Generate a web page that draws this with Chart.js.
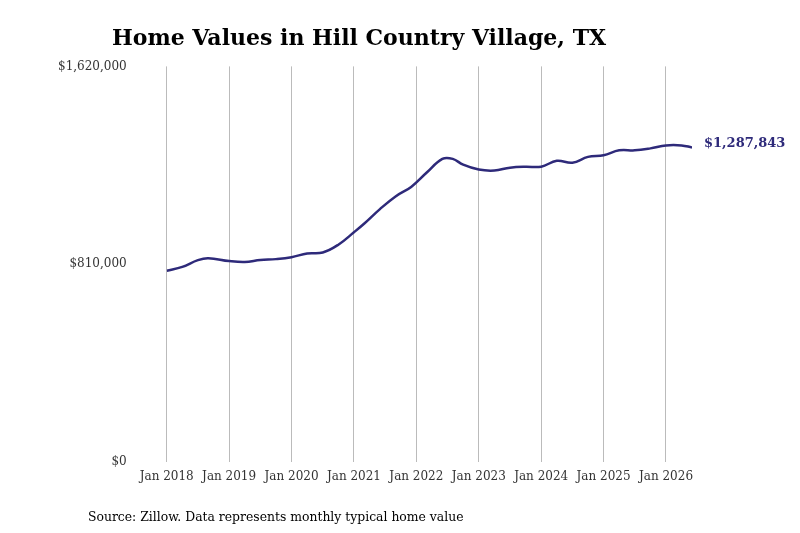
<!DOCTYPE html>
<html><head><meta charset="utf-8">
<script src="https://cdn.jsdelivr.net/npm/chart.js@4"></script>
<style>body{margin:0;background:#fff}#wrap{position:relative;width:800px;height:533px}
#src{position:absolute;left:88px;top:509px;font:12.4px "DejaVu Serif",serif;color:#000}</style>
</head><body><div id="wrap"><canvas id="c" width="800" height="533"></canvas><div id="src">Source: Zillow. Data represents monthly typical home value</div></div>
<script>
// months since Jan 2018
const months = [0,3,6,8,12,15,18,21,24,27,30,33,36,38,41,44,47,50,53,55,57,60,63,66,69,72,75,78,81,84,87,90,93,96,99,101];
const values = [782000,798000,826000,834000,822000,818000,826000,830000,838000,853000,857000,889000,940000,976000,1035000,1087000,1126000,1185000,1241000,1241000,1217000,1197000,1193000,1205000,1209000,1209000,1233000,1225000,1249000,1256000,1276000,1276000,1284000,1296000,1296000,1287843];
const xTicks = [0,12,24,36,48,60,72,84,96];
const yTicks = [0,810000,1620000];

const endLabel = {
  id: 'endLabel',
  afterDatasetsDraw(chart) {
    const pts = chart.getDatasetMeta(0).data;
    const p = pts[pts.length - 1];
    const ctx = chart.ctx;
    ctx.save();
    ctx.font = 'bold 13px "DejaVu Serif", serif';
    ctx.fillStyle = '#2e2a7a';
    ctx.textBaseline = 'middle';
    ctx.fillText('$' + values[values.length - 1].toLocaleString('en-US'), p.x + 12, p.y - 4);
    ctx.restore();
  }
};

new Chart(document.getElementById('c'), {
  type: 'line',
  data: { datasets: [{
    data: months.map((m, i) => ({x: m, y: values[i]})),
    borderColor: '#2e2a7a', borderWidth: 2.5, pointRadius: 0, tension: 0.4, fill: false
  }]},
  options: {
    responsive: false, animation: false,
    layout: { padding: { left: 26, right: 108, bottom: 41 } },
    plugins: {
      legend: { display: false }, tooltip: { enabled: false },
      title: { display: true, text: 'Home Values in Hill Country Village, TX', color: '#000',
        font: { family: '"DejaVu Serif", serif', size: 22, weight: 'bold' }, padding: { top: 26, bottom: 14 } }
    },
    scales: {
      x: { type: 'linear', min: 0, max: 101,
        afterBuildTicks: ax => { ax.ticks = xTicks.map(v => ({value: v})); },
        grid: { color: '#bbb', drawTicks: false }, border: { display: false },
        ticks: { maxRotation: 0, autoSkip: false, padding: 8, color: '#333', font: { family: '"DejaVu Serif", serif', size: 12 },
          callback: v => 'Jan ' + (2018 + v / 12) } },
      y: { min: 0, max: 1620000,
        afterBuildTicks: ax => { ax.ticks = yTicks.map(v => ({value: v})); },
        grid: { display: false }, border: { display: false },
        ticks: { padding: 32, color: '#333', font: { family: '"DejaVu Serif", serif', size: 12 },
          callback: v => '$' + v.toLocaleString('en-US') } }
    }
  },
  plugins: [endLabel]
});
</script></body></html>
